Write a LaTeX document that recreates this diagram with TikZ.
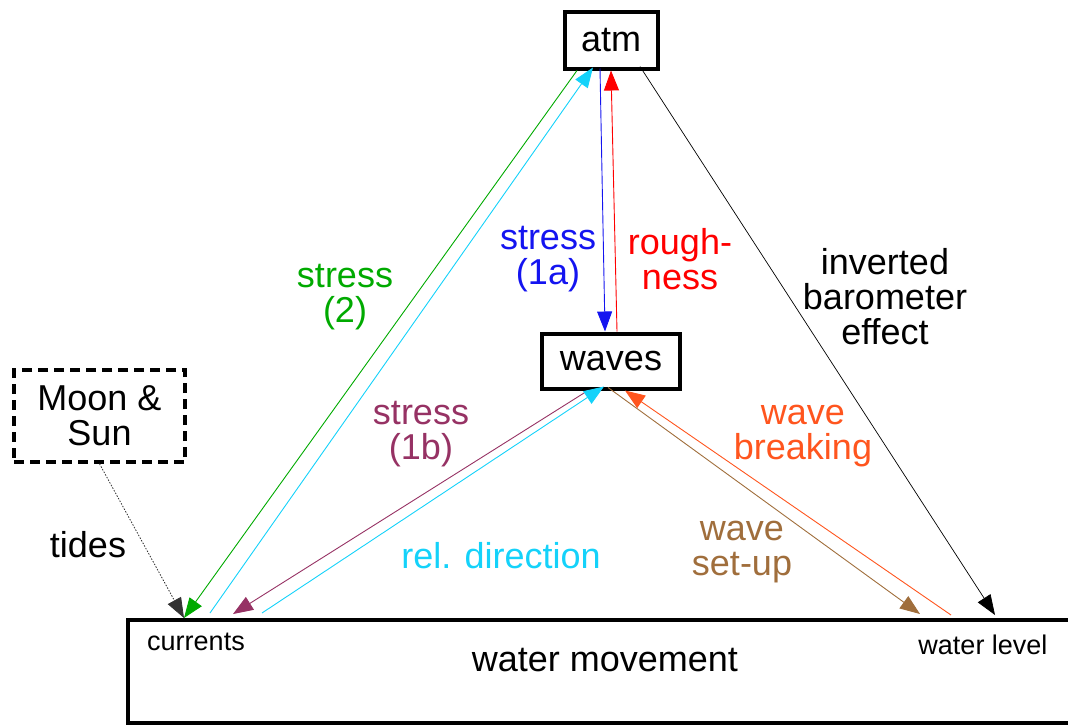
\documentclass[tikz,border=0pt]{standalone}
\usepackage{fontspec}
\setmainfont{Liberation Sans}
\usetikzlibrary{arrows.meta,calc}
\definecolor{cgreen}{RGB}{0,170,0}
\definecolor{ccyan}{RGB}{20,210,250}
\definecolor{cblue}{RGB}{20,20,240}
\definecolor{cred}{RGB}{255,0,0}
\definecolor{cpurple}{RGB}{150,50,100}
\definecolor{cbrown}{RGB}{160,110,60}
\definecolor{corange}{RGB}{255,85,30}
\tikzset{
  bigfont/.style={font=\fontsize{36}{35}\selectfont},
  smallfont/.style={font=\fontsize{27}{30}\selectfont},
  boxnode/.style={draw, line width=4pt, inner sep=0pt, bigfont},
  lbl/.style={align=center, inner sep=0pt, bigfont},
  arr/.style={-{Triangle[length=20pt,width=15pt]}, line width=0.9pt},
}
\begin{document}
\begin{tikzpicture}[x=1pt,y=-1pt]
\useasboundingbox (0,0) rectangle (1068,726);
% boxes
\node[boxnode, minimum width=93, minimum height=57] (atm) at (611,40) {atm};
\node[boxnode, minimum width=138, minimum height=55] (waves) at (611,361) {waves};
\node[draw, line width=3.5pt, dash pattern=on 10pt off 6pt, minimum width=171, minimum height=92, lbl] (ms) at (99.5,416) {Moon \&\\Sun};
\node[draw, line width=4pt, minimum width=952, minimum height=103, inner sep=0pt] (wm) at (604,671) {};
\node[lbl] (wmtext) at (605,660) {water movement};
\node[smallfont, inner sep=0pt] (cur) at (196,642) {currents};
\node[smallfont, inner sep=0pt] (wl) at (983,645) {water level};
% endpoints on water movement box
\coordinate (curA) at (184,618);
\coordinate (curB) at (210,613);
\coordinate (curC) at (233,614);
\coordinate (curD) at (262,613);
\coordinate (wlA) at (920,614);
\coordinate (wlB) at (951,615);
\coordinate (wlC) at (995,615);
% connectors
\draw[arr, cgreen] ([xshift=-34pt]atm.south) -- (curA);
\draw[arr, ccyan] (curB) -- ([xshift=-18pt,yshift=3pt]atm.south);
\draw[arr, cblue] ([xshift=-11pt,yshift=2pt]atm.south) -- ([xshift=-6pt]waves.north);
\draw[arr, cred] ([xshift=6pt]waves.north) -- ([xshift=0pt]atm.south);
\draw[arr, black, line width=0.7pt] ([xshift=29pt,yshift=4pt]atm.south) -- (wlC);
\draw[arr, cpurple] ([xshift=-23pt]waves.south) -- (curC);
\draw[arr, ccyan] (curD) -- ([xshift=-7pt,yshift=4pt]waves.south);
\draw[arr, cbrown] ([xshift=-3pt,yshift=3pt]waves.south) -- (wlA);
\draw[arr, corange] (wlB) -- ([xshift=14pt]waves.south);
\draw[-{Triangle[length=20pt,width=15pt]}, line width=0.8pt, dash pattern=on 1.5pt off 1.5pt, black!80] (ms.south) -- (curA);
% labels
\node[lbl, text=cgreen] (l2) at (345,297) {stress\\(2)};
\node[lbl, text=cblue] (l1a) at (548,259) {stress\\(1a)};
\node[lbl, text=cred] (lr) at (680,259) {rough-\\ness};
\node[lbl, text=black] (lib) at (885,297) {inverted\\barometer\\effect};
\node[lbl, text=cpurple] (l1b) at (421,434) {stress\\(1b)};
\node[lbl, text=ccyan] (lrd) at (501,556) {rel. direction};
\node[lbl, text=corange] (lwb) at (803,436) {wave\\breaking};
\node[lbl, text=cbrown] (lws) at (742,552) {wave\\set-up};
\node[lbl, text=black] (lt) at (88,545) {tides};
\end{tikzpicture}
\end{document}
